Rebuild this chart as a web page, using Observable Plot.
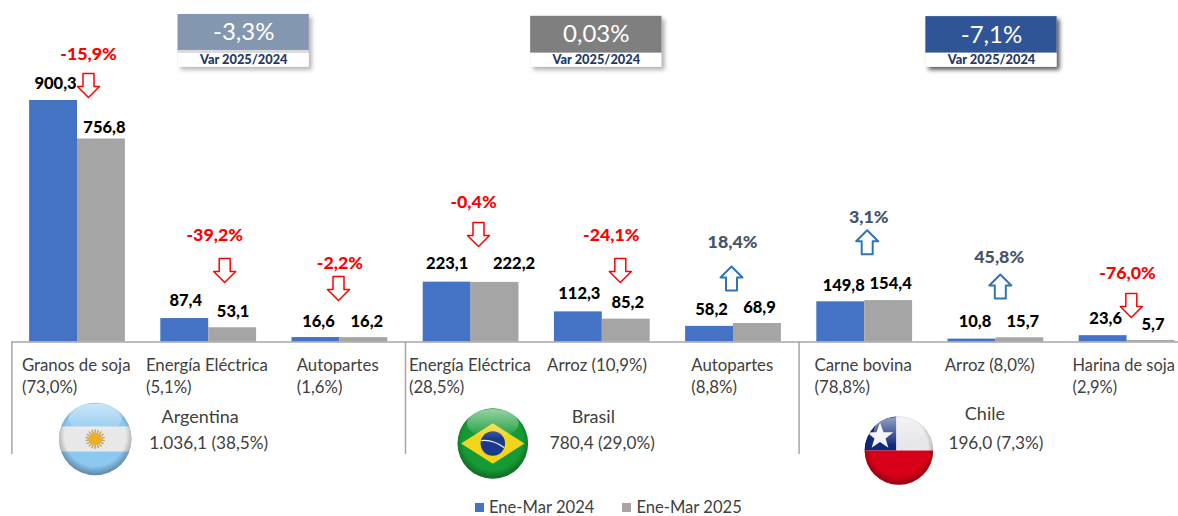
<!DOCTYPE html>
<html lang="es">
<head>
<meta charset="utf-8">
<script src="https://cdn.jsdelivr.net/npm/d3@7"></script>
<script src="https://cdn.jsdelivr.net/npm/@observablehq/plot@0.6"></script>
<style>
  html, body { margin: 0; padding: 0; background: #fff; overflow: hidden; }
  #chart svg { display: block; }
  #legend { display: flex; align-items: center; height: 18px; padding-left: 475px; font: 16.6px Lato, sans-serif; color: #404040; }
  #legend i { width: 9px; height: 9px; display: inline-block; margin-right: 5px; }
  #legend span { margin-right: 28px; }
</style>
</head>
<body>
<div id="chart"></div>
<div id="legend"></div>
<script>
const products = ["Granos de soja\n(73,0%)", "Energía Eléctrica\n(5,1%)", "Autopartes\n(1,6%)",
  "Energía Eléctrica\n(28,5%)", "Arroz (10,9%)", "Autopartes\n(8,8%)",
  "Carne bovina\n(78,8%)", "Arroz (8,0%)", "Harina de soja\n(2,9%)"];
const values2024 = [900.3, 87.4, 16.6, 223.1, 112.3, 58.2, 149.8, 10.8, 23.6];
const values2025 = [756.8, 53.1, 16.2, 222.2, 85.2, 68.9, 154.4, 15.7, 5.7];
const changes = ["-15,9%", "-39,2%", "-2,2%", "-0,4%", "-24,1%", "18,4%", "3,1%", "45,8%", "-76,0%"];
const countries = ["Argentina", "Brasil", "Chile"];
const countryTotals = ["1.036,1 (38,5%)", "780,4 (29,0%)", "196,0 (7,3%)"];
const countryChanges = ["-3,3%", "0,03%", "-7,1%"];
const periods = ["Ene-Mar 2024", "Ene-Mar 2025"];

// Layout nudges (pixels), kept apart from the data
const FONT = "Lato, sans-serif";
const labelDx2024 = [2, 1, 2.5, 0, 1, 2, 3, 3, 2.5];
const labelDx2025 = [3, 0.5, 3, 19, 1.5, 2, 2, 3, 2];
const labelDy2024 = [-17, -18, -16, -18.5, -18, -17, -16, -17, -17];
const labelDy2025 = [-11, -16, -16, -19, -16, -16, -17, -16, -16];
const productDx = [10, 2.8, 22.4, 3.4, 10.4, 23.4, 15.4, 14.4, 11];
const changeDx = [11, 6, 0, 2.4, 9, -1, 4, 3.3, 0.4];
const changeDy = [-46, -83, -74, -79.7, -76.4, -81, -83, -80.6, -62.2];
const arrowDx = [11, 16, -1.4, 7.4, 18, -2, 2.5, 4.4, 4.2];
const arrowDy = [-15, -48, -49, -47.7, -41.4, -45, -58.3, -51.3, -30.2];
const groupMid = [1, 4, 7];
const groupStart = [0, 3, 6];
const countryDx = [-8.5, -9, -11];
const countryDy = [75, 75, 72];
const flagDx = [-113.5, -109.5, -97];
const flagDy = [97, 101.5, 108.5];
const flagSize = [74, 72, 70];
const kpiDx = [35, -6, -4.4];
const kpiFill = ["#8497b0", "#7f7f7f", "#2f5597"];
const kpiShadow = ["rgba(120,120,120,.55)", "rgba(120,120,120,.6)", "rgba(60,60,60,.85)"];
const kpiTop = [1221, 1214, 1213];
const kpiMid = [1087, 1077, 1077];
const kpiBand = [1076, 1076, 1076];
const kpiBottom = 1024;

const rows = periods.flatMap((period, p) => products.map((name, i) => ({
  i, period, value: (p ? values2025 : values2024)[i],
  x1: i + (p ? 0.5 : 0.135), x2: i + (p ? 0.865 : 0.5),
  dx: (p ? labelDx2025 : labelDx2024)[i], dy: (p ? labelDy2025 : labelDy2024)[i]
})));
const topOf = i => Math.max(values2024[i], values2025[i]);

const blockArrow = {
  draw(context, l) {
    const head = 11, half = 11, shaft = 5.5;
    context.moveTo(0, -l);
    context.lineTo(half, -l + head);
    context.lineTo(shaft, -l + head);
    context.lineTo(shaft, 0);
    context.lineTo(-shaft, 0);
    context.lineTo(-shaft, -l + head);
    context.lineTo(-half, -l + head);
    context.closePath();
  }
};

const flagSvg = inner => "data:image/svg+xml;utf8," + encodeURIComponent(
  `<svg xmlns="http://www.w3.org/2000/svg" viewBox="0 0 100 100"><defs>
   <clipPath id="c"><circle cx="50" cy="50" r="49"/></clipPath>
   <radialGradient id="e" cx="50%" cy="45%" r="52%"><stop offset="80%" stop-color="#000" stop-opacity="0"/><stop offset="100%" stop-color="#000" stop-opacity=".28"/></radialGradient>
   <linearGradient id="g" x1="0" y1="0" x2="0" y2="1"><stop offset="0" stop-color="#fff" stop-opacity=".55"/><stop offset="1" stop-color="#fff" stop-opacity=".03"/></linearGradient>
   </defs><g clip-path="url(#c)">${inner}<circle cx="50" cy="50" r="50" fill="url(#e)"/>
   <ellipse cx="50" cy="22" rx="36" ry="20" fill="url(#g)"/></g></svg>`);
const sunRays = d3.range(0, 360, 20).map(a =>
  `<rect x="49.2" y="37" width="1.6" height="26" fill="#c9a36a" transform="rotate(${a} 50 50)"/>`).join("");
const flags = [
  flagSvg(`<rect width="100" height="100" fill="#8cc8f0"/><rect y="33" width="100" height="34" fill="#e8e8e8"/>${sunRays}<circle cx="50" cy="50" r="8" fill="#eeb021"/>`),
  flagSvg(`<rect width="100" height="100" fill="#169a35"/><path d="M6 50 L50 22 L94 50 L50 78Z" fill="#f2d51b"/><circle cx="50" cy="50" r="17" fill="#1c3a8c"/><path d="M34 46 Q50 44 66 56" stroke="#e8f0ff" stroke-width="1.6" fill="none"/>`),
  flagSvg(`<rect width="100" height="50" fill="#e6e6ea"/><rect width="46" height="50" fill="#10297a"/><rect y="50" width="100" height="50" fill="#d80018"/><path d="M23 10 L28 24 L42 24 L31 33 L35 46 L23 38 L11 46 L15 33 L4 24 L18 24Z" fill="#f2f2f6"/>`)
];

const chart = Plot.plot({
  width: 1178,
  height: 498,
  style: { background: "transparent", fontFamily: FONT },
  x: { type: "linear", domain: [0, 9], range: [11.4, 1192.2], axis: null },
  y: { domain: [0, 900.3], range: [341.5, 100], axis: null },
  color: { domain: periods, range: ["#4472c4", "#a5a5a5"] },
  marks: [
    // KPI cards
    ...countries.flatMap((c, k) => {
      const x1 = groupMid[k], x2 = groupMid[k] + 1;
      const cx = groupMid[k] + 0.5;
      return [
        Plot.rect([k], {
          x1, x2, y1: kpiBottom, y2: kpiTop[k], fill: "#d9d9d9", dx: kpiDx[k],
          render(index, scales, values, dimensions, context, next) {
            const g = next(index, scales, values, dimensions, context);
            g.style.filter = `drop-shadow(3px 3px 2px ${kpiShadow[k]})`;
            return g;
          }
        }),
        Plot.rect([k], { x1, x2, y1: kpiMid[k], y2: kpiTop[k], fill: kpiFill[k], dx: kpiDx[k] }),
        Plot.rect([k], { x1, x2, y1: kpiBottom, y2: kpiBand[k], fill: "#fff", dx: kpiDx[k] }),
        Plot.text([countryChanges[k]], {
          x: cx, y: (kpiTop[k] + kpiMid[k]) / 2, text: d => d, dx: kpiDx[k],
          fill: "#fff", fontSize: 24, fontWeight: 400, lineAnchor: "middle"
        }),
        Plot.text(["Var 2025/2024"], {
          x: cx, y: (kpiBottom + kpiBand[k]) / 2, text: d => d, dx: kpiDx[k],
          fill: "#1f3864", fontSize: 12.8, fontWeight: 900, lineAnchor: "middle"
        })
      ];
    }),
    // Bars
    Plot.rectY(rows, { x1: "x1", x2: "x2", y1: 0, y2: "value", fill: "period" }),
    // Axis and dividers
    Plot.ruleX(groupStart, { y1: 0, y2: -419, stroke: "#a6a6a6", strokeWidth: 1.5 }),
    Plot.ruleY([0], { x1: 0, x2: 9, stroke: "#a6a6a6", strokeWidth: 1.5 }),
    // Value labels
    ...rows.map(r => Plot.text([r], {
      x: (r.x1 + r.x2) / 2, y: "value",
      text: d => d.value.toFixed(1).replace(".", ","),
      dx: r.dx, dy: r.dy, fontSize: 16.5, fontWeight: 900, fill: "#000", lineAnchor: "middle"
    })),
    // Change labels and arrows
    ...changes.flatMap((text, i) => {
      const up = !text.startsWith("-");
      return [
        Plot.text([text], {
          x: i + 0.5, y: topOf(i), text: d => d, dx: changeDx[i], dy: changeDy[i],
          fontSize: 17.8, fontWeight: 900, fill: up ? "#44546a" : "#ff0000", lineAnchor: "middle"
        }),
        Plot.vector([i], {
          x: i + 0.5, y: topOf(i), dx: arrowDx[i], dy: arrowDy[i],
          length: 24, rotate: up ? 0 : 180, shape: blockArrow,
          stroke: up ? "#2e75b6" : "#ff0000", strokeWidth: up ? 2 : 1.5, fill: "#fff"
        })
      ];
    }),
    // Product labels
    ...products.map((name, i) => Plot.text([name], {
      x: i, y: 0, text: d => d, dx: productDx[i], dy: 14,
      textAnchor: "start", lineAnchor: "top", fontSize: i === 8 ? 16.4 : 16.8, lineHeight: i === 8 ? 1.31 : 1.28, fill: "#404040"
    })),
    // Countries
    ...countries.flatMap((c, k) => [
      Plot.image([k], {
        x: groupMid[k] + 0.5, y: 0, dx: flagDx[k], dy: flagDy[k],
        src: () => flags[k], width: flagSize[k], height: flagSize[k]
      }),
      Plot.text([c], {
        x: groupMid[k] + 0.5, y: 0, text: d => d, dx: countryDx[k], dy: countryDy[k],
        fontSize: 18, fill: "#404040", lineAnchor: "middle"
      }),
      Plot.text([countryTotals[k]], {
        x: groupMid[k] + 0.5, y: 0, text: d => d, dy: 101.5,
        fontSize: 17.2, fill: "#404040", lineAnchor: "middle"
      })
    ])
  ]
});
document.getElementById("chart").append(chart);

const legend = d3.select("#legend");
periods.forEach((p, i) => {
  legend.append("i").style("background", ["#4472c4", "#a5a5a5"][i]);
  legend.append("span").text(p);
});
</script>
</body>
</html>
